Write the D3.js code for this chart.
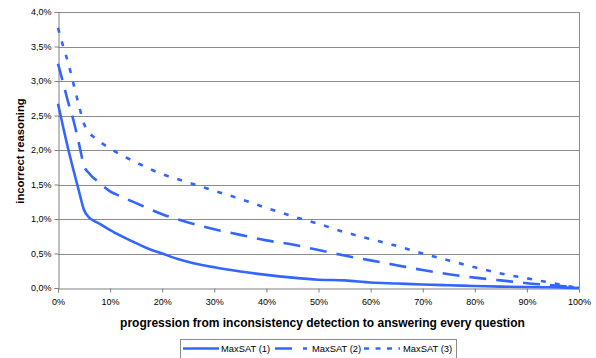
<!DOCTYPE html>
<html>
<head>
  <meta charset="utf-8">
  <title>incorrect reasoning</title>
  <script src="https://d3js.org/d3.v7.min.js"></script>
  <style>
    body, html { margin: 0; padding: 0; background: #fff; overflow: hidden; }
    svg { display: block; font-family: "Liberation Sans", Arial, sans-serif; }
    .tick text { font-size: 9px; fill: #000; }
  </style>
</head>
<body>
  <svg id="chart"></svg>
  <script>
    // progression (%) -> incorrect reasoning (%)
    var xTicks = [0, 10, 20, 30, 40, 50, 60, 70, 80, 90, 100];
    var yTicks = [0, 0.5, 1, 1.5, 2, 2.5, 3, 3.5, 4];
    var seriesNames = ["MaxSAT (1)", "MaxSAT (2)", "MaxSAT (3)"];

    var maxsat1 = [[0,2.67],[1,2.33],[2,2.0],[3,1.7],[4,1.41],[5,1.13],[6,1.02],[7,0.97],[8,0.93],[10,0.84],
      [12,0.76],[15,0.65],[17,0.58],[20,0.5],[23,0.42],[26,0.36],[30,0.3],[35,0.24],[40,0.19],[45,0.15],
      [50,0.12],[55,0.11],[60,0.08],[65,0.065],[70,0.05],[75,0.04],[80,0.03],[85,0.02],[90,0.015],[95,0.01],[100,0]];
    var maxsat2 = [[0,3.25],[1,2.97],[2,2.68],[3,2.42],[4,2.1],[5,1.77],[6,1.66],[8,1.52],[10,1.4],[12,1.33],
      [15,1.23],[20,1.07],[25,0.95],[30,0.85],[35,0.77],[40,0.69],[45,0.63],[50,0.55],[55,0.47],[60,0.4],
      [65,0.33],[70,0.26],[75,0.2],[80,0.15],[85,0.11],[90,0.07],[95,0.04],[100,0]];
    var maxsat3 = [[0,3.77],[1,3.5],[2,3.25],[3,2.95],[4,2.65],[5,2.38],[6,2.25],[7,2.18],[8,2.12],[10,2.02],
      [15,1.82],[20,1.65],[25,1.53],[30,1.41],[35,1.29],[40,1.16],[45,1.04],[50,0.93],[55,0.81],[60,0.71],
      [65,0.61],[70,0.5],[75,0.4],[80,0.3],[85,0.21],[90,0.14],[95,0.07],[97,0.04],[100,0]];

    var width = 596, height = 358;
    var margin = {top: 12, right: 17, bottom: 70, left: 58};
    var blue = "#3366ff";
    var dashes = [null, "17,10", "5,9"];
    var legendDashes = [null, "17,11", "5,6.5"];

    var svg = d3.select("#chart").attr("width", width).attr("height", height);

    var xScale = d3.scaleLinear().domain([0, 100]).range([margin.left, width - margin.right]);
    var yScale = d3.scaleLinear().domain([0, 4]).range([height - margin.bottom, margin.top]);

    // horizontal gridlines
    svg.append("g")
      .selectAll("line")
      .data(yTicks.slice(1))
      .join("line")
      .attr("x1", xScale(0)).attr("x2", xScale(100))
      .attr("y1", d => Math.round(yScale(d)) + 0.5)
      .attr("y2", d => Math.round(yScale(d)) + 0.5)
      .attr("stroke", "#8c8c8c");

    // right border of plot area
    svg.append("line")
      .attr("x1", Math.round(xScale(100)) + 0.5).attr("x2", Math.round(xScale(100)) + 0.5)
      .attr("y1", yScale(4)).attr("y2", yScale(0))
      .attr("stroke", "#8c8c8c");

    var fmt = function(d) { return d3.format(".1f")(d).replace(".", ",") + "%"; };

    var yAxis = svg.append("g")
      .attr("transform", "translate(" + (Math.round(xScale(0)) + 0.5) + ",0)")
      .call(d3.axisLeft(yScale).tickValues(yTicks).tickFormat(fmt).tickSize(4).tickPadding(3));

    var xAxis = svg.append("g")
      .attr("transform", "translate(0," + (Math.round(yScale(0)) + 0.5) + ")")
      .call(d3.axisBottom(xScale).tickValues(xTicks).tickFormat(d => d + "%").tickSize(4).tickPadding(6));

    [yAxis, xAxis].forEach(function(a) {
      a.select(".domain").attr("stroke", "#808080");
      a.selectAll(".tick line").attr("stroke", "#808080");
    });

    var line = d3.line()
      .x(d => xScale(d[0]))
      .y(d => yScale(d[1]))
      .curve(d3.curveMonotoneX);

    [maxsat1, maxsat2, maxsat3].forEach(function(s, i) {
      svg.append("path")
        .datum(s)
        .attr("fill", "none")
        .attr("stroke", blue)
        .attr("stroke-width", 2.6)
        .attr("stroke-dasharray", dashes[i])
        .attr("d", line);
    });

    // axis titles
    svg.append("text")
      .attr("x", (xScale(0) + xScale(100)) / 2 + 4)
      .attr("y", 327)
      .attr("text-anchor", "middle")
      .style("font-size", "12px")
      .style("font-weight", "bold")
      .text("progression from inconsistency detection to answering every question");

    svg.append("text")
      .attr("transform", "translate(24," + 151 + ") rotate(-90)")
      .attr("text-anchor", "middle")
      .style("font-size", "11.3px")
      .style("font-weight", "bold")
      .text("incorrect reasoning");

    // legend
    var legend = svg.append("g");
    legend.append("rect")
      .attr("x", 180.5).attr("y", 339.5)
      .attr("width", 276).attr("height", 24)
      .attr("fill", "#fff").attr("stroke", "#8c8c8c");

    var legendX = [[183, 219, 221], [275, 307, 312], [364, 400, 403]];
    seriesNames.forEach(function(name, i) {
      legend.append("line")
        .attr("x1", legendX[i][0]).attr("x2", legendX[i][1])
        .attr("y1", 348.5).attr("y2", 348.5)
        .attr("stroke", blue)
        .attr("stroke-width", 2.6)
        .attr("stroke-dasharray", legendDashes[i]);
      legend.append("text")
        .attr("x", legendX[i][2])
        .attr("y", 352)
        .style("font-size", "9.4px")
        .text(name);
    });
  </script>
</body>
</html>
